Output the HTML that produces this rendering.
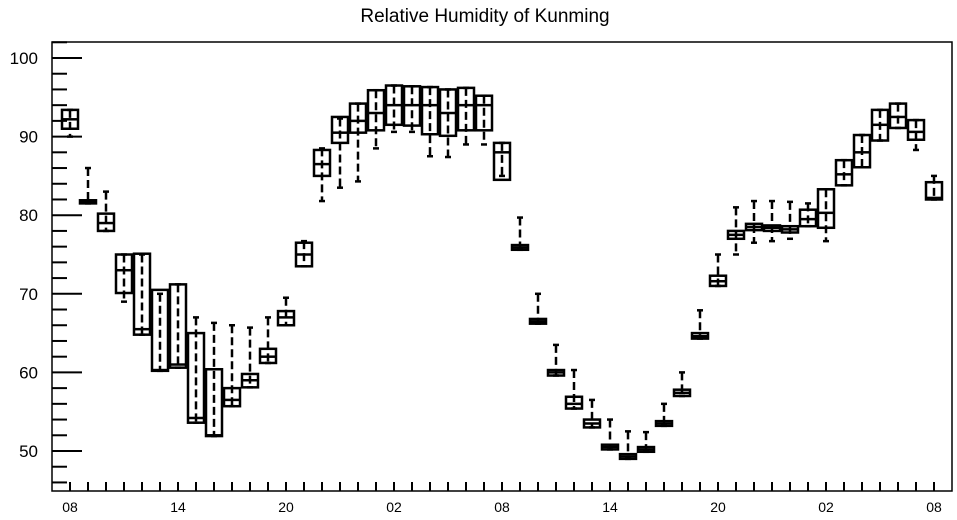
<!DOCTYPE html>
<html><head><meta charset="utf-8"><style>
body{margin:0;background:#fff;}
svg{display:block;font-family:"Liberation Sans",Arial,sans-serif;}
</style></head><body>
<svg id="chart" width="957" height="520" viewBox="0 0 957 520">
<text x="485" y="22" text-anchor="middle" font-size="19">Relative Humidity of Kunming</text>
<rect x="52" y="42" width="900" height="449" fill="none" stroke="#000" stroke-width="1.5"/>
<g id="axes"></g>
<g id="marks"></g>
</svg>
<script>
const hourLabels=["08","14","20","02","08","14","20","02","08"];
const q3 =[93.4,81.9,80.2,75.0,75.1,70.5,71.2,65.0,60.4,58.0,59.8,63.0,67.8,76.5,88.3,92.5,94.2,95.9,96.5,96.4,96.3,96.0,96.2,95.2,89.2,76.2,66.8,60.3,56.9,54.0,50.8,49.6,50.5,53.8,57.8,65.0,72.3,78.0,78.9,78.7,78.6,80.7,83.3,87.0,90.2,93.4,94.2,92.1,84.2];
const q1 =[91.0,81.5,78.0,70.1,64.8,60.2,60.6,53.6,51.9,55.7,58.1,61.2,66.0,73.5,85.0,89.2,90.5,90.8,91.5,91.4,90.3,90.1,90.8,90.8,84.5,75.6,66.2,59.6,55.4,53.0,50.2,49.0,49.9,53.2,57.0,64.3,71.0,77.0,78.1,78.0,77.8,78.6,78.4,83.8,86.1,89.5,91.1,89.6,82.0];
const med=[92.2,81.7,79.0,73.0,65.5,60.3,61.0,54.2,52.0,56.5,59.0,62.0,67.0,75.0,86.5,90.5,92.0,93.0,94.0,94.0,94.0,93.0,94.0,94.0,88.0,75.9,66.5,60.0,56.0,53.5,50.5,49.3,50.2,53.5,57.4,64.6,71.6,77.5,78.5,78.4,78.2,79.5,80.3,85.2,88.0,91.5,92.5,90.6,82.2];
const lo =[90.0,81.5,78.0,69.0,64.8,60.2,60.6,53.6,51.9,55.7,58.1,61.2,66.0,73.5,81.8,83.5,84.3,88.5,90.6,90.6,87.5,87.4,89.0,89.0,85.0,75.6,66.2,59.6,55.4,53.0,50.2,49.0,49.9,53.2,57.0,64.3,71.0,75.0,76.5,76.7,77.0,78.6,76.7,83.8,86.1,89.5,91.1,88.3,82.0];
const hi =[93.4,86.0,83.0,75.0,75.0,70.0,71.2,67.0,66.3,66.0,65.7,67.0,69.5,76.7,88.5,92.3,94.2,95.9,96.5,96.4,96.3,96.0,96.2,95.2,89.2,79.7,70.0,63.5,60.3,56.5,54.0,52.5,52.4,56.0,60.0,67.9,75.0,81.0,81.8,81.8,81.7,81.5,83.3,87.0,90.2,93.4,94.2,92.1,85.0];
const yTicks=[50,60,70,80,90,100];

const NS="http://www.w3.org/2000/svg";
const L=52,R=952,T=42,B=491;
function X(i){return 70+i*18;}
function Y(v){return 451-(v-50)*7.86;}
function mk(tag,attrs,parent){const e=document.createElementNS(NS,tag);for(const k in attrs)e.setAttribute(k,attrs[k]);parent.appendChild(e);return e;}
const axes=document.getElementById('axes'),marks=document.getElementById('marks');
for(let v=46;v<=102;v+=2){
  const major=v%10===0;
  const t=mk('line',{x1:L,x2:L+(major?30:15),y1:Y(v),y2:Y(v),stroke:'#000','stroke-width':2},axes);
  
  
}
yTicks.forEach(v=>{
  const t=mk('text',{x:38,y:Y(v)+6,'text-anchor':'end','font-size':17},axes);
  t.textContent=v;
  
  
});
for(let i=0;i<q3.length;i++){
  const t=mk('line',{x1:X(i),x2:X(i),y1:B,y2:B-9,stroke:'#000','stroke-width':2},axes);
  
  
}
hourLabels.forEach((s,k)=>{
  const t=mk('text',{x:X(k*6),y:512,'text-anchor':'middle','font-size':14},axes);
  t.textContent=s;
  
  
});
for(let i=0;i<q3.length;i++){
  const g=mk('g',{},marks);
  
  
  const x=X(i),w=16;
  mk('line',{x1:x,x2:x,y1:Y(hi[i]),y2:Y(lo[i]),stroke:'#000','stroke-width':2.5,'stroke-dasharray':'8 4'},g);
  mk('line',{x1:x-3,x2:x+3,y1:Y(hi[i]),y2:Y(hi[i]),stroke:'#000','stroke-width':2.5},g);
  mk('line',{x1:x-3,x2:x+3,y1:Y(lo[i]),y2:Y(lo[i]),stroke:'#000','stroke-width':2.5},g);
  const yt=Y(q3[i]),yb=Y(q1[i]);
  mk('rect',{x:x-w/2,y:yt,width:w,height:Math.max(yb-yt,1.5),fill:'none',stroke:'#000','stroke-width':2.5},g);
  mk('line',{x1:x-w/2,x2:x+w/2,y1:Y(med[i]),y2:Y(med[i]),stroke:'#000','stroke-width':2.5},g);
}
</script>
</body></html>
